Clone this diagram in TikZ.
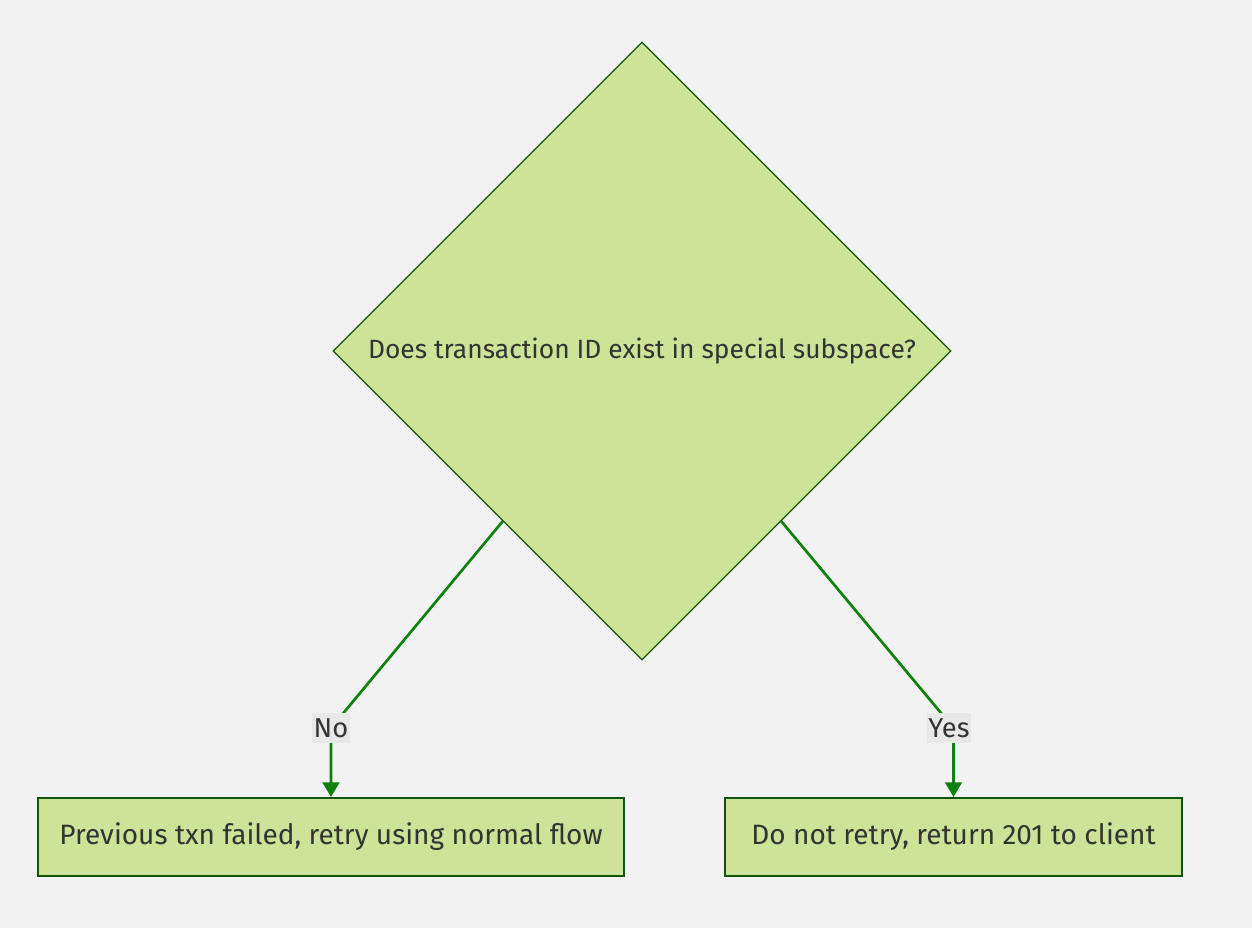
\documentclass[tikz,border=0pt]{standalone}
\usepackage{fontspec}
\setmainfont{Fira Sans}
\usetikzlibrary{shapes.geometric, arrows.meta, positioning, calc}
\definecolor{canvas}{HTML}{F2F2F2}
\definecolor{nodefill}{HTML}{CDE498}
\definecolor{nodeline}{HTML}{13540C}
\definecolor{edgegreen}{HTML}{0D800D}
\definecolor{lblfill}{HTML}{E8E8E8}
\definecolor{txt}{HTML}{333333}

\begin{document}
\begin{tikzpicture}[
  x=0.75pt, y=-0.75pt,
  decision/.style={diamond, draw=nodeline, fill=nodefill, line width=1pt, inner sep=0pt, minimum width=463.5pt, minimum height=463.5pt, text=txt, font=\fontsize{19.8}{24}\selectfont},
  outcome/.style={rectangle, draw=nodeline, fill=nodefill, line width=1.5pt, minimum height=58.5pt, text=txt, font=\fontsize{21}{24}\selectfont},
  lbl/.style={fill=lblfill, inner sep=1pt, minimum height=23pt, text=txt, font=\fontsize{20.5}{24}\selectfont},
  edge/.style={draw=edgegreen, line width=2pt, -{Triangle[length=11pt, width=12.5pt]}}
]
  % Canvas
  \fill[canvas] (0,0) rectangle (1252,928);
  \useasboundingbox (0,0) rectangle (1252,928);

  % Nodes
  \node[decision] (chk) at (642,351) {Does transaction ID exist in special subspace?};
  \node[outcome, minimum width=439.5pt] (retry) at (331,837) {Previous txn failed, retry using normal flow};
  \node[outcome, minimum width=342.75pt] (done) at (953.5,837) {Do not retry, return 201 to client};

  % Edges
  \coordinate (nobend) at (331,728);
  \coordinate (yesbend) at (953.5,728);
  \draw[edge] ($(chk.south)!0.45!(chk.west)$) -- (nobend) -- (retry.north);
  \draw[edge] ($(chk.south)!0.45!(chk.east)$) -- (yesbend) -- (done.north);

  % Labels
  \node[lbl] (nolbl) at (331,728) {No};
  \node[lbl] (yeslbl) at (949,728) {Yes};
\end{tikzpicture}
\end{document}
